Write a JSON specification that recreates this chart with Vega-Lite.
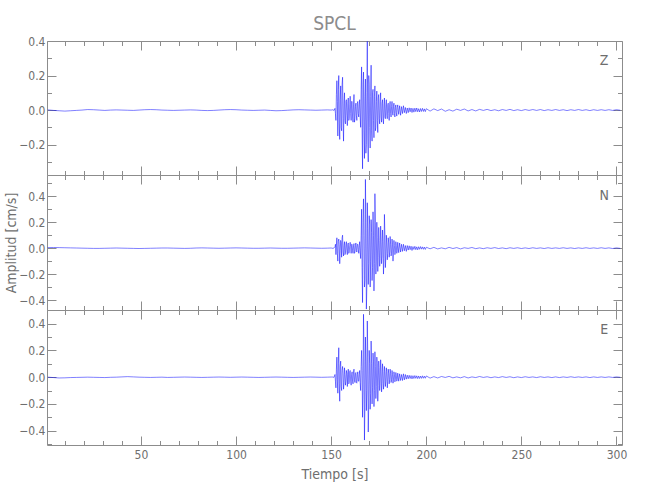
{
"$schema": "https://vega.github.io/schema/vega-lite/v6.json",
"padding": {"left": 4, "top": 15, "right": 5, "bottom": 5},
"title": {"text": "SPCL", "anchor": "middle", "frame": "group", "offset": 1},
"data": {"values": [
{"t":1,"z":0.001,"n":0.004,"e":0.0},{"t":4,"z":-0.002,"n":0.005,"e":-0.003},{"t":7,"z":-0.004,"n":0.004,"e":-0.006},{"t":10,"z":-0.006,"n":0.003,"e":-0.005},{"t":13,"z":-0.004,"n":0.002,"e":-0.003},{"t":16,"z":-0.002,"n":0.001,"e":-0.002},{"t":19,"z":0.0,"n":0.0,"e":-0.001},{"t":22,"z":0.003,"n":-0.001,"e":0.0},{"t":25,"z":0.002,"n":-0.002,"e":-0.001},{"t":28,"z":0.0,"n":-0.002,"e":-0.002},{"t":31,"z":-0.002,"n":-0.001,"e":-0.003},{"t":34,"z":0.0,"n":0.0,"e":-0.001},{"t":37,"z":0.001,"n":0.001,"e":0.0},{"t":40,"z":0.0,"n":0.0,"e":0.002},{"t":43,"z":-0.001,"n":-0.001,"e":0.004},{"t":46,"z":-0.002,"n":-0.002,"e":0.002},{"t":49,"z":0.0,"n":-0.003,"e":0.0},{"t":52,"z":0.002,"n":-0.002,"e":-0.001},{"t":55,"z":0.003,"n":-0.001,"e":-0.002},{"t":58,"z":0.002,"n":0.0,"e":-0.001},{"t":61,"z":0.0,"n":0.001,"e":0.0},{"t":64,"z":-0.001,"n":0.001,"e":-0.002},{"t":67,"z":-0.002,"n":0.0,"e":-0.001},{"t":70,"z":-0.001,"n":-0.001,"e":0.0},{"t":73,"z":0.0,"n":-0.002,"e":0.001},{"t":76,"z":0.001,"n":-0.001,"e":0.0},{"t":79,"z":0.0,"n":0.001,"e":-0.001},{"t":82,"z":-0.002,"n":0.002,"e":-0.002},{"t":85,"z":-0.003,"n":0.001,"e":-0.001},{"t":88,"z":-0.002,"n":0.0,"e":0.0},{"t":91,"z":0.0,"n":-0.001,"e":0.001},{"t":94,"z":0.002,"n":0.0,"e":0.0},{"t":97,"z":0.003,"n":0.001,"e":-0.001},{"t":100,"z":0.002,"n":0.002,"e":0.0},{"t":103,"z":0.0,"n":0.001,"e":0.001},{"t":106,"z":-0.001,"n":0.0,"e":0.0},{"t":109,"z":-0.002,"n":-0.001,"e":-0.001},{"t":112,"z":-0.001,"n":-0.001,"e":-0.002},{"t":115,"z":0.0,"n":0.0,"e":-0.001},{"t":118,"z":-0.002,"n":0.001,"e":0.0},{"t":121,"z":-0.004,"n":0.0,"e":0.001},{"t":124,"z":-0.003,"n":-0.001,"e":0.0},{"t":127,"z":-0.001,"n":-0.001,"e":-0.001},{"t":130,"z":0.001,"n":0.0,"e":-0.002},{"t":133,"z":0.002,"n":0.001,"e":-0.001},{"t":136,"z":0.001,"n":0.002,"e":0.0},{"t":139,"z":0.0,"n":0.001,"e":0.001},{"t":142,"z":-0.001,"n":0.0,"e":0.0},{"t":145,"z":0.0,"n":-0.001,"e":-0.001},{"t":148,"z":0.001,"n":0.0,"e":0.0},{"t":150,"z":0.0,"n":0.001,"e":0.001},{"t":151,"z":0.002,"n":-0.002,"e":0.001},{"t":151.5,"z":-0.003,"n":0.002,"e":-0.002},
{"t":152,"z":0.01,"n":0.01,"e":0.02},{"t":152.5,"z":-0.06,"n":-0.05,"e":-0.08},{"t":153,"z":0.17,"n":0.08,"e":0.15},{"t":153.5,"z":-0.15,"n":-0.1,"e":-0.12},{"t":154,"z":0.2,"n":0.07,"e":0.22},{"t":154.5,"z":-0.17,"n":-0.12,"e":-0.18},{"t":155,"z":0.14,"n":0.06,"e":0.12},{"t":155.5,"z":-0.12,"n":-0.07,"e":-0.1},{"t":156,"z":0.19,"n":0.1,"e":0.08},{"t":156.5,"z":-0.18,"n":-0.06,"e":-0.09},{"t":157,"z":0.1,"n":0.05,"e":0.07},{"t":157.5,"z":-0.08,"n":-0.04,"e":-0.06},{"t":158,"z":0.06,"n":0.05,"e":0.05},{"t":158.5,"z":-0.09,"n":-0.05,"e":-0.07},{"t":159,"z":0.07,"n":0.04,"e":0.06},{"t":159.5,"z":-0.05,"n":-0.03,"e":-0.04},{"t":160,"z":0.08,"n":0.045,"e":0.05},{"t":160.5,"z":-0.06,"n":-0.04,"e":-0.06},{"t":161,"z":0.05,"n":0.03,"e":0.04},{"t":161.5,"z":-0.07,"n":-0.04,"e":-0.05},{"t":162,"z":0.09,"n":0.035,"e":0.06},{"t":162.5,"z":-0.05,"n":-0.03,"e":-0.04},{"t":163,"z":0.04,"n":0.04,"e":0.035},{"t":163.5,"z":-0.06,"n":-0.03,"e":-0.045},{"t":164,"z":0.05,"n":0.03,"e":0.04},{"t":164.5,"z":-0.04,"n":-0.04,"e":-0.03},{"t":165,"z":0.06,"n":0.05,"e":0.05},{"t":165.5,"z":-0.1,"n":-0.08,"e":-0.1},{"t":166,"z":0.25,"n":0.3,"e":0.2},{"t":166.5,"z":-0.34,"n":-0.42,"e":-0.3},{"t":167,"z":0.22,"n":0.38,"e":0.47},{"t":167.5,"z":-0.28,"n":-0.3,"e":-0.47},{"t":168,"z":0.18,"n":0.53,"e":0.3},{"t":168.5,"z":-0.2,"n":-0.47,"e":-0.25},{"t":169,"z":0.398,"n":0.35,"e":0.42},{"t":169.5,"z":-0.3,"n":-0.28,"e":-0.41},{"t":170,"z":0.15,"n":0.25,"e":0.2},{"t":170.5,"z":-0.22,"n":-0.3,"e":-0.24},{"t":171,"z":0.26,"n":0.22,"e":0.27},{"t":171.5,"z":-0.18,"n":-0.25,"e":-0.2},{"t":172,"z":0.12,"n":0.28,"e":0.18},{"t":172.5,"z":-0.16,"n":-0.33,"e":-0.22},{"t":173,"z":0.14,"n":0.42,"e":0.19},{"t":173.5,"z":-0.1,"n":-0.2,"e":-0.16},{"t":174,"z":0.11,"n":0.2,"e":0.15},{"t":174.5,"z":-0.13,"n":-0.18,"e":-0.18},{"t":175,"z":0.09,"n":0.16,"e":0.12},{"t":175.5,"z":-0.08,"n":-0.14,"e":-0.1},{"t":176,"z":0.1,"n":0.17,"e":0.13},{"t":176.5,"z":-0.07,"n":-0.12,"e":-0.11},{"t":177,"z":0.06,"n":0.14,"e":0.1},{"t":177.5,"z":-0.08,"n":-0.2,"e":-0.09},{"t":178,"z":0.07,"n":0.26,"e":0.08},{"t":178.5,"z":-0.05,"n":-0.15,"e":-0.07},{"t":179,"z":0.06,"n":0.1,"e":0.07},{"t":179.5,"z":-0.05,"n":-0.09,"e":-0.08},{"t":180,"z":0.04,"n":0.08,"e":0.06},{"t":180.5,"z":-0.06,"n":-0.07,"e":-0.05},{"t":181,"z":0.05,"n":0.09,"e":0.06},{"t":181.5,"z":-0.04,"n":-0.06,"e":-0.04},{"t":182,"z":0.05,"n":0.07,"e":0.05},{"t":182.5,"z":-0.03,"n":-0.1,"e":-0.045},{"t":183,"z":0.04,"n":0.06,"e":0.04},{"t":183.5,"z":-0.04,"n":-0.05,"e":-0.035},{"t":184,"z":0.03,"n":0.05,"e":0.035},{"t":184.5,"z":-0.035,"n":-0.04,"e":-0.03},{"t":185,"z":0.03,"n":0.045,"e":0.03},{"t":185.5,"z":-0.025,"n":-0.035,"e":-0.03},{"t":186,"z":0.025,"n":0.04,"e":0.025},{"t":186.5,"z":-0.03,"n":-0.03,"e":-0.025},{"t":187,"z":0.02,"n":0.03,"e":0.02},{"t":187.5,"z":-0.02,"n":-0.025,"e":-0.025},{"t":188,"z":0.025,"n":0.03,"e":0.025},{"t":188.5,"z":-0.015,"n":-0.02,"e":-0.02},{"t":189,"z":0.015,"n":0.02,"e":0.02},{"t":189.5,"z":-0.02,"n":-0.025,"e":-0.015},{"t":190,"z":0.012,"n":0.02,"e":0.015},{"t":190.5,"z":-0.015,"n":-0.015,"e":-0.012},{"t":191,"z":0.013,"n":0.018,"e":0.014},{"t":191.5,"z":-0.01,"n":-0.012,"e":-0.01},{"t":192,"z":0.012,"n":0.015,"e":0.012},{"t":192.5,"z":-0.014,"n":-0.018,"e":-0.013},{"t":193,"z":0.01,"n":0.012,"e":0.011},{"t":193.5,"z":-0.012,"n":-0.01,"e":-0.01},{"t":194,"z":0.011,"n":0.014,"e":0.012},{"t":194.5,"z":-0.009,"n":-0.012,"e":-0.009},{"t":195,"z":0.012,"n":0.01,"e":0.01},{"t":195.5,"z":-0.01,"n":-0.013,"e":-0.011},{"t":196,"z":0.008,"n":0.011,"e":0.009},{"t":196.5,"z":-0.011,"n":-0.009,"e":-0.01},{"t":197,"z":0.009,"n":0.012,"e":0.008},{"t":197.5,"z":-0.008,"n":-0.008,"e":-0.009},{"t":198,"z":0.01,"n":0.01,"e":0.01},{"t":198.5,"z":-0.008,"n":-0.009,"e":-0.008},{"t":199,"z":0.007,"n":0.008,"e":0.007},{"t":199.5,"z":-0.009,"n":-0.01,"e":-0.008},{"t":200,"z":0.008,"n":0.007,"e":0.009},
{"t":202,"z":-0.006,"n":-0.005,"e":-0.007},{"t":204,"z":0.007,"n":0.006,"e":0.004},{"t":206,"z":-0.003,"n":-0.006,"e":-0.006},{"t":208,"z":0.006,"n":0.002,"e":0.005},{"t":210,"z":-0.007,"n":-0.005,"e":-0.002},{"t":212,"z":0.002,"n":0.006,"e":0.006},{"t":214,"z":-0.006,"n":-0.003,"e":-0.005},{"t":216,"z":0.005,"n":0.004,"e":0.002},{"t":218,"z":-0.002,"n":-0.006,"e":-0.005},{"t":220,"z":0.006,"n":0.003,"e":0.004},{"t":222,"z":-0.005,"n":-0.002,"e":-0.006},{"t":224,"z":0.003,"n":0.005,"e":0.002},{"t":226,"z":-0.005,"n":-0.004,"e":-0.003},{"t":228,"z":0.004,"n":0.002,"e":0.005},{"t":230,"z":-0.002,"n":-0.004,"e":-0.002},{"t":232,"z":0.004,"n":0.003,"e":0.003},{"t":234,"z":-0.003,"n":-0.002,"e":-0.004},{"t":236,"z":0.002,"n":0.004,"e":0.002},{"t":238,"z":-0.004,"n":-0.003,"e":-0.003},{"t":240,"z":0.003,"n":0.002,"e":0.004},{"t":242,"z":-0.002,"n":-0.004,"e":-0.002},{"t":244,"z":0.004,"n":0.003,"e":0.003},{"t":246,"z":-0.003,"n":-0.002,"e":-0.004},{"t":248,"z":0.002,"n":0.003,"e":0.002},{"t":250,"z":-0.003,"n":-0.003,"e":-0.003},{"t":252,"z":0.003,"n":0.002,"e":0.003},{"t":254,"z":-0.002,"n":-0.003,"e":-0.002},{"t":256,"z":0.003,"n":0.003,"e":0.002},{"t":258,"z":-0.002,"n":-0.002,"e":-0.003},{"t":260,"z":0.003,"n":0.002,"e":0.003},{"t":262,"z":-0.003,"n":-0.003,"e":-0.002},{"t":264,"z":0.002,"n":0.003,"e":0.002},{"t":266,"z":-0.002,"n":-0.002,"e":-0.003},{"t":268,"z":0.003,"n":0.002,"e":0.002},{"t":270,"z":-0.002,"n":-0.002,"e":-0.003},{"t":272,"z":0.002,"n":0.003,"e":0.002},{"t":274,"z":-0.003,"n":-0.002,"e":-0.002},{"t":276,"z":0.002,"n":0.002,"e":0.003},{"t":278,"z":-0.002,"n":-0.003,"e":-0.002},{"t":280,"z":0.003,"n":0.002,"e":0.002},{"t":282,"z":-0.002,"n":-0.002,"e":-0.002},{"t":284,"z":0.002,"n":0.003,"e":0.002},{"t":286,"z":-0.003,"n":-0.002,"e":-0.003},{"t":288,"z":0.002,"n":0.002,"e":0.002},{"t":290,"z":-0.002,"n":-0.002,"e":-0.002},{"t":292,"z":0.002,"n":0.003,"e":0.002},{"t":294,"z":-0.002,"n":-0.002,"e":-0.002},{"t":296,"z":0.002,"n":0.002,"e":0.002},{"t":298,"z":-0.002,"n":-0.003,"e":-0.002},{"t":300,"z":0.002,"n":0.002,"e":0.002},{"t":302,"z":-0.001,"n":-0.002,"e":-0.001},
{"t":152.25,"z":-0.02,"n":0.03,"e":-0.03},{"t":152.75,"z":0.09,"n":0.02,"e":0.06},{"t":153.25,"z":0.05,"n":-0.04,"e":-0.02},{"t":153.75,"z":0.12,"n":0.05,"e":0.1},{"t":154.25,"z":-0.08,"n":0.03,"e":-0.05},{"t":154.75,"z":0.06,"n":-0.02,"e":0.08},{"t":155.25,"z":-0.1,"n":0.04,"e":-0.07},{"t":155.75,"z":0.15,"n":0.08,"e":0.05},{"t":156.25,"z":-0.05,"n":-0.03,"e":0.03},{"t":156.75,"z":0.04,"n":0.02,"e":-0.04},{"t":157.25,"z":-0.06,"n":-0.05,"e":0.02},{"t":157.75,"z":0.05,"n":0.03,"e":-0.03},{"t":158.25,"z":-0.03,"n":-0.02,"e":0.03},{"t":158.75,"z":0.04,"n":0.03,"e":0.02},{"t":159.25,"z":-0.06,"n":-0.04,"e":-0.05},{"t":159.75,"z":0.03,"n":0.02,"e":0.04},{"t":160.25,"z":-0.02,"n":0.01,"e":-0.03},{"t":160.75,"z":0.05,"n":0.03,"e":0.02},{"t":161.25,"z":-0.04,"n":-0.02,"e":-0.03},{"t":161.75,"z":0.03,"n":0.02,"e":0.04},{"t":162.25,"z":-0.07,"n":-0.04,"e":-0.02},{"t":162.75,"z":0.02,"n":0.02,"e":0.03},{"t":163.25,"z":-0.03,"n":-0.02,"e":-0.04},{"t":163.75,"z":0.04,"n":0.03,"e":0.02},{"t":164.25,"z":-0.02,"n":-0.01,"e":-0.03},{"t":164.75,"z":0.03,"n":0.02,"e":0.02},{"t":165.25,"z":-0.04,"n":-0.03,"e":-0.04},{"t":165.75,"z":0.12,"n":0.1,"e":0.08},{"t":166.25,"z":-0.1,"n":-0.15,"e":0.05},{"t":166.75,"z":0.15,"n":0.2,"e":-0.1},{"t":167.25,"z":-0.12,"n":0.1,"e":0.2},{"t":167.75,"z":0.08,"n":-0.25,"e":-0.2},{"t":168.25,"z":-0.25,"n":0.2,"e":0.12},{"t":168.75,"z":0.1,"n":-0.3,"e":-0.1},{"t":169.25,"z":-0.15,"n":0.15,"e":0.15},{"t":169.75,"z":0.2,"n":-0.12,"e":-0.2},{"t":170.25,"z":-0.1,"n":0.18,"e":0.1},{"t":170.75,"z":0.08,"n":-0.1,"e":-0.12},{"t":171.25,"z":-0.12,"n":0.12,"e":0.1},{"t":171.75,"z":0.1,"n":-0.15,"e":-0.08},{"t":172.25,"z":-0.06,"n":0.1,"e":0.12},{"t":172.75,"z":0.08,"n":-0.12,"e":-0.1},{"t":173.25,"z":-0.12,"n":0.2,"e":0.08},{"t":173.75,"z":0.05,"n":-0.1,"e":-0.07},{"t":174.25,"z":-0.06,"n":0.08,"e":0.1},{"t":174.75,"z":0.07,"n":-0.07,"e":-0.06},{"t":175.25,"z":-0.05,"n":0.06,"e":0.07},{"t":175.75,"z":0.05,"n":-0.08,"e":-0.05},{"t":176.25,"z":-0.04,"n":0.07,"e":0.06},{"t":176.75,"z":0.04,"n":-0.06,"e":-0.05},{"t":177.25,"z":-0.05,"n":0.05,"e":0.04},{"t":177.75,"z":0.03,"n":-0.08,"e":-0.05},{"t":178.25,"z":-0.04,"n":0.1,"e":0.04},{"t":178.75,"z":0.03,"n":-0.06,"e":-0.03},{"t":179.25,"z":-0.03,"n":0.04,"e":0.04},{"t":179.75,"z":0.03,"n":-0.04,"e":-0.03},{"t":180.25,"z":-0.02,"n":0.04,"e":0.03},{"t":180.75,"z":0.03,"n":-0.03,"e":-0.02},{"t":181.25,"z":-0.02,"n":0.03,"e":0.03},{"t":181.75,"z":0.02,"n":-0.04,"e":-0.02},{"t":182.25,"z":-0.02,"n":0.03,"e":0.02},{"t":182.75,"z":0.02,"n":-0.03,"e":-0.02},{"t":183.25,"z":-0.02,"n":0.02,"e":0.02},{"t":183.75,"z":0.015,"n":-0.03,"e":-0.015},{"t":184.25,"z":-0.015,"n":0.02,"e":0.015},{"t":184.75,"z":0.015,"n":-0.02,"e":-0.015}
]},
"spacing": 0,
"bounds": "flush",
"vconcat": [
{
 "width": 575, "height": 134,
 "layer": [
  {"mark": {"type": "line", "stroke": "#0000ff", "strokeWidth": 0.5},
   "encoding": {
    "x": {"field": "t", "type": "quantitative", "scale": {"domain": [0.6, 302.9], "nice": false, "zero": false},
          "axis": {"orient": "bottom", "values": [10,20,30,40,50,60,70,80,90,100,110,120,130,140,150,160,170,180,190,200,210,220,230,240,250,260,270,280,290,300], "labels": false, "title": null, "tickSize": {"condition": {"test": "datum.value % 50 == 0", "value": -9}, "value": -4.5}}},
    "y": {"field": "z", "type": "quantitative", "scale": {"domain": [-0.376, 0.4], "nice": false, "zero": false},
          "axis": {"orient": "left", "values": [-0.3,-0.2,-0.1,0,0.1,0.2,0.3,0.4], "format": ".1f", "labelExpr": "round(datum.value*10) % 2 == 0 ? datum.label : ''", "labelPadding": 11, "title": null, "tickSize": {"condition": {"test": "round(datum.value*10) % 2 == 0", "value": -9}, "value": -4.5}}}
   }},
  {"data": {"values": [{}]},
   "mark": {"type": "text", "text": "Z", "fontSize": 14, "color": "#6e6e6e"},
   "encoding": {
    "x": {"datum": 293.5, "type": "quantitative", "axis": {"orient": "top", "values": [10,20,30,40,50,60,70,80,90,100,110,120,130,140,150,160,170,180,190,200,210,220,230,240,250,260,270,280,290,300], "labels": false, "title": null, "tickSize": {"condition": {"test": "datum.value % 50 == 0", "value": -9}, "value": -4.5}}},
    "y": {"datum": 0.284, "type": "quantitative", "axis": {"orient": "right", "values": [-0.3,-0.2,-0.1,0,0.1,0.2,0.3,0.4], "labels": false, "title": null, "tickSize": {"condition": {"test": "round(datum.value*10) % 2 == 0", "value": -9}, "value": -4.5}}}
   }}
 ],
 "resolve": {"axis": {"x": "independent", "y": "independent"}}
},
{
 "width": 575, "height": 135,
 "layer": [
  {"mark": {"type": "line", "stroke": "#0000ff", "strokeWidth": 0.5},
   "encoding": {
    "x": {"field": "t", "type": "quantitative", "scale": {"domain": [0.6, 302.9], "nice": false, "zero": false},
          "axis": {"orient": "bottom", "values": [10,20,30,40,50,60,70,80,90,100,110,120,130,140,150,160,170,180,190,200,210,220,230,240,250,260,270,280,290,300], "labels": false, "title": null, "tickSize": {"condition": {"test": "datum.value % 50 == 0", "value": -9}, "value": -4.5}}},
    "y": {"field": "n", "type": "quantitative", "scale": {"domain": [-0.477, 0.564], "nice": false, "zero": false},
          "axis": {"orient": "left", "values": [-0.4,-0.3,-0.2,-0.1,0,0.1,0.2,0.3,0.4,0.5], "format": ".1f", "labelExpr": "round(datum.value*10) % 2 == 0 ? datum.label : ''", "labelPadding": 11, "title": "Amplitud [cm/s]", "titlePadding": 0, "tickSize": {"condition": {"test": "round(datum.value*10) % 2 == 0", "value": -9}, "value": -4.5}}}
   }},
  {"data": {"values": [{}]},
   "mark": {"type": "text", "text": "N", "fontSize": 14, "color": "#6e6e6e"},
   "encoding": {
    "x": {"datum": 293.5, "type": "quantitative", "axis": {"orient": "top", "values": [10,20,30,40,50,60,70,80,90,100,110,120,130,140,150,160,170,180,190,200,210,220,230,240,250,260,270,280,290,300], "labels": false, "title": null, "tickSize": {"condition": {"test": "datum.value % 50 == 0", "value": -9}, "value": -4.5}}},
    "y": {"datum": 0.40, "type": "quantitative", "axis": {"orient": "right", "values": [-0.4,-0.3,-0.2,-0.1,0,0.1,0.2,0.3,0.4,0.5], "labels": false, "title": null, "tickSize": {"condition": {"test": "round(datum.value*10) % 2 == 0", "value": -9}, "value": -4.5}}}
   }}
 ],
 "resolve": {"axis": {"x": "independent", "y": "independent"}}
},
{
 "width": 575, "height": 135,
 "layer": [
  {"mark": {"type": "line", "stroke": "#0000ff", "strokeWidth": 0.5},
   "encoding": {
    "x": {"field": "t", "type": "quantitative", "scale": {"domain": [0.6, 302.9], "nice": false, "zero": false},
          "axis": {"orient": "bottom", "values": [10,20,30,40,50,60,70,80,90,100,110,120,130,140,150,160,170,180,190,200,210,220,230,240,250,260,270,280,290,300], "labelExpr": "datum.value % 50 == 0 ? datum.label : ''", "labelPadding": 13, "title": "Tiempo [s]", "titlePadding": 3, "tickSize": {"condition": {"test": "datum.value % 50 == 0", "value": -9}, "value": -4.5}}},
    "y": {"field": "e", "type": "quantitative", "scale": {"domain": [-0.507, 0.502], "nice": false, "zero": false},
          "axis": {"orient": "left", "values": [-0.5,-0.4,-0.3,-0.2,-0.1,0,0.1,0.2,0.3,0.4,0.5], "format": ".1f", "labelExpr": "round(datum.value*10) % 2 == 0 ? datum.label : ''", "labelPadding": 11, "title": null, "tickSize": {"condition": {"test": "round(datum.value*10) % 2 == 0", "value": -9}, "value": -4.5}}}
   }},
  {"data": {"values": [{}]},
   "mark": {"type": "text", "text": "E", "fontSize": 14, "color": "#6e6e6e"},
   "encoding": {
    "x": {"datum": 293.5, "type": "quantitative", "axis": {"orient": "top", "values": [10,20,30,40,50,60,70,80,90,100,110,120,130,140,150,160,170,180,190,200,210,220,230,240,250,260,270,280,290,300], "labels": false, "title": null, "tickSize": {"condition": {"test": "datum.value % 50 == 0", "value": -9}, "value": -4.5}}},
    "y": {"datum": 0.35, "type": "quantitative", "axis": {"orient": "right", "values": [-0.5,-0.4,-0.3,-0.2,-0.1,0,0.1,0.2,0.3,0.4,0.5], "labels": false, "title": null, "tickSize": {"condition": {"test": "round(datum.value*10) % 2 == 0", "value": -9}, "value": -4.5}}}
   }}
 ],
 "resolve": {"axis": {"x": "independent", "y": "independent"}}
}
],
"config": {
 "font": "Liberation Sans Narrow, DejaVu Sans Condensed, Liberation Sans, sans-serif",
 "view": {"stroke": null},
 "axis": {"grid": false, "domainColor": "#8c8c8c", "tickColor": "#8c8c8c", "domainWidth": 1, "tickWidth": 1, "labelColor": "#6e6e6e", "labelFontSize": 12, "labelFlush": false, "labelOverlap": false, "titleColor": "#6e6e6e", "titleFontWeight": "normal", "titleFontSize": 14},
 "title": {"color": "#8c8c8c", "fontSize": 19, "fontWeight": "normal"}
}
}
